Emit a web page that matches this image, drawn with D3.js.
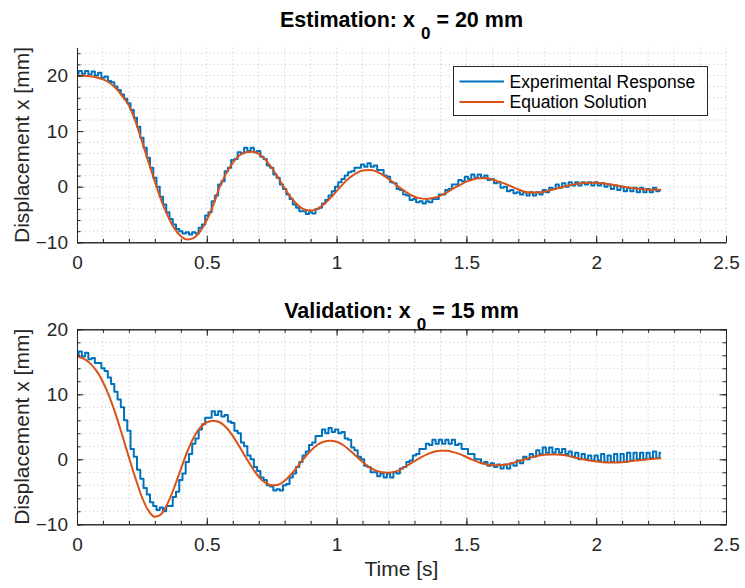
<!DOCTYPE html>
<html>
<head>
<meta charset="utf-8">
<script src="https://cdn.jsdelivr.net/npm/d3@7"></script>
<style>
  body { margin: 0; background: #fff; }
  svg { font-family: "Liberation Sans", Arial, Helvetica, sans-serif; }
</style>
</head>
<body>
<div id="wrapper"></div>
<script>
// sample spacing of the two series [s]
const expDt = 0.0125
const solDt = 0.025

// Estimation run, x0 = 20 mm
const estExp = [
  20.3, 20.8, 20.3, 20.8, 20.2, 20.7, 20.0, 20.5, 19.6, 19.8, 19.0, 18.8, 18.0, 17.4, 16.6, 15.8,
  15.0, 13.8, 12.4, 10.8, 8.8, 7.0, 5.2, 3.4, 1.6, 0.0, -1.8, -3.2, -4.6, -5.8, -6.8, -7.6,
  -8.0, -8.4, -8.2, -8.6, -8.2, -8.4, -7.4, -6.8, -5.2, -4.6, -2.6, -1.6, 0.4, 1.0, 2.8, 3.4,
  4.8, 5.0, 6.2, 6.0, 7.0, 6.4, 7.0, 6.2, 6.4, 5.4, 5.0, 3.8, 3.4, 2.2, 1.6, 0.4,
  -0.4, -1.4, -2.2, -3.2, -3.8, -4.4, -4.4, -4.9, -4.6, -4.8, -4.0, -3.8, -3.0, -2.4, -1.6, -0.8,
  0.0, 0.8, 1.4, 2.0, 2.6, 2.8, 3.4, 3.4, 4.0, 3.6, 4.2, 3.6, 3.8, 3.0, 3.0, 2.0,
  1.8, 0.8, 0.6, -0.4, -0.6, -1.4, -1.6, -2.4, -2.2, -2.8, -2.6, -3.0, -2.6, -2.8, -2.2, -2.2,
  -1.4, -1.4, -0.6, -0.4, 0.4, 0.4, 1.2, 1.0, 1.8, 1.4, 2.2, 1.6, 2.2, 1.6, 2.0, 1.2,
  1.4, 0.6, 0.8, -0.2, 0.0, -0.8, -0.6, -1.2, -1.0, -1.4, -1.0, -1.6, -1.0, -1.6, -1.0, -1.4,
  -0.6, -1.0, -0.2, -0.4, 0.4, -0.2, 0.6, 0.0, 0.8, 0.2, 0.8, 0.2, 0.8, 0.4, 0.8, 0.2,
  0.8, 0.2, 0.6, 0.0, 0.4, -0.4, 0.2, -0.6, 0.0, -0.8, -0.2, -0.8, -0.2, -1.0, -0.2, -1.0,
  -0.4, -1.0, -0.2, -0.8, -0.6
]
const estSol = [
  20.0, 19.95, 19.85, 19.65, 19.3, 18.7, 17.7, 16.3, 14.6, 11.8, 8.2, 4.5, 0.9, -2.5, -5.3, -7.5,
  -8.9, -9.5, -9.2, -8.0, -6.0, -3.3, 0.0, 2.4, 4.3, 5.6, 6.2, 6.3, 5.9, 4.9, 3.4, 1.6,
  -0.3, -2.0, -3.3, -4.1, -4.3, -4.0, -3.2, -2.1, -0.8, 0.5, 1.6, 2.4, 2.9, 3.0, 2.8, 2.2,
  1.4, 0.5, -0.4, -1.2, -1.8, -2.1, -2.2, -2.0, -1.6, -1.0, -0.3, 0.3, 0.9, 1.3, 1.5, 1.5,
  1.3, 0.9, 0.5, 0.0, -0.5, -0.9, -1.05, -1.05, -0.9, -0.6, -0.3, 0.0, 0.3, 0.5, 0.65, 0.7,
  0.7, 0.6, 0.45, 0.25, 0.05, -0.15, -0.3, -0.45, -0.55, -0.55, -0.55
]

// Validation run, x0 = 15 mm
const valExp = [
  16.0, 16.6, 15.8, 16.4, 15.4, 15.6, 14.8, 14.8, 14.0, 13.6, 12.6, 11.6, 10.4, 9.2, 8.0, 6.0,
  4.4, 1.6, 0.4, -1.6, -3.0, -4.4, -5.4, -6.6, -7.2, -7.8, -7.4, -8.0, -7.2, -7.2, -5.8, -5.0,
  -3.2, -2.2, -0.4, 0.8, 2.4, 3.2, 4.6, 5.4, 6.4, 6.4, 7.4, 6.8, 7.4, 6.6, 6.8, 5.8,
  5.6, 4.4, 4.0, 2.6, 2.0, 0.6, 0.0, -1.2, -1.8, -2.8, -3.2, -4.0, -4.2, -4.8, -4.6, -4.8,
  -4.0, -3.8, -2.8, -2.2, -1.2, -0.4, 0.6, 1.2, 2.2, 2.6, 3.6, 3.6, 4.6, 4.0, 4.8, 4.2,
  4.6, 4.0, 4.2, 3.2, 3.0, 1.8, 1.4, 0.4, 0.0, -1.0, -1.2, -2.0, -2.0, -2.6, -2.2, -2.8,
  -2.2, -2.8, -2.0, -2.2, -1.4, -1.2, -0.4, -0.2, 0.6, 0.8, 1.6, 1.6, 2.4, 2.2, 3.0, 2.4,
  3.0, 2.4, 3.0, 2.4, 3.0, 2.2, 2.4, 1.6, 1.6, 0.8, 0.8, 0.0, 0.0, -0.6, -0.4, -1.0,
  -0.6, -1.2, -0.8, -1.4, -0.8, -1.4, -0.6, -1.0, -0.2, -0.6, 0.4, 0.0, 0.8, 0.4, 1.4, 0.8,
  1.8, 1.0, 1.8, 1.0, 1.6, 1.0, 1.6, 0.8, 1.2, 0.4, 1.0, 0.0, 0.8, 0.0, 0.6, -0.2,
  0.6, -0.2, 0.8, -0.4, 0.6, -0.4, 0.8, -0.4, 0.8, -0.4, 1.0, -0.2, 1.0, 0.0, 1.0, 0.0,
  1.0, 0.2, 1.2, 0.2, 1.0
]
const valSol = [
  15.8, 15.5, 14.8, 13.6, 11.9, 9.6, 6.8, 3.6, 0.3, -2.9, -5.8, -7.9, -8.85, -8.4, -6.7, -4.3,
  -1.5, 1.2, 3.4, 4.9, 5.7, 5.95, 5.7, 4.9, 3.6, 2.0, 0.3, -1.3, -2.7, -3.6, -4.0, -3.9,
  -3.3, -2.3, -1.1, 0.2, 1.3, 2.2, 2.7, 2.85, 2.7, 2.2, 1.4, 0.5, -0.4, -1.2, -1.7, -2.0,
  -2.05, -1.9, -1.5, -0.9, -0.3, 0.3, 0.8, 1.15, 1.3, 1.3, 1.1, 0.8, 0.35, -0.1, -0.5, -0.75,
  -0.9, -0.9, -0.85, -0.6, -0.3, 0.0, 0.3, 0.55, 0.7, 0.75, 0.75, 0.65, 0.45, 0.2, 0.0, -0.2,
  -0.35, -0.45, -0.5, -0.5, -0.45, -0.35, -0.2, -0.1, 0.0, 0.1, 0.15
]

const xTicks = [0, 0.5, 1, 1.5, 2, 2.5]
const yTicks = [-10, 0, 10, 20]
const legendLabels = ["Experimental Response", "Equation Solution"]
const colors = ["#0072BD", "#D95319"]

const width = 745
const height = 588
const margin = { left: 77, right: 19 }
const axisColor = "#262626"

const svg = d3.select("#wrapper")
  .append("svg")
    .attr("width", width)
    .attr("height", height)

const toPoints = (values, dt) => values.map((v, i) => [i * dt, v])

function drawPanel(p) {
  const x = d3.scaleLinear()
    .domain([0, 2.5])
    .range([margin.left, width - margin.right])
  const y = d3.scaleLinear()
    .domain(p.yDomain)
    .range([p.bottom, p.top])

  const g = svg.append("g")

  // dotted grid at every minor step
  const xMinor = d3.range(0, 2.5001, 0.1)
  const yMinor = d3.range(p.yDomain[0], p.yDomain[1] + 0.001, 2)
  g.append("g").selectAll("line")
    .data(xMinor)
    .join("line")
      .attr("x1", d => x(d)).attr("x2", d => x(d))
      .attr("y1", p.top).attr("y2", p.bottom)
  g.append("g").selectAll("line")
    .data(yMinor)
    .join("line")
      .attr("x1", x.range()[0]).attr("x2", x.range()[1])
      .attr("y1", d => y(d)).attr("y2", d => y(d))
  g.selectAll("line")
    .attr("stroke", "#c4c4c4")
    .attr("stroke-width", 1)
    .attr("stroke-dasharray", "1,3")

  // data lines
  const expLine = d3.line()
    .x(d => x(d[0])).y(d => y(d[1]))
    .curve(d3.curveStep)
  const solLine = d3.line()
    .x(d => x(d[0])).y(d => y(d[1]))
    .curve(d3.curveMonotoneX)

  g.append("path")
    .datum(toPoints(p.exp, expDt))
    .attr("fill", "none")
    .attr("stroke", colors[0])
    .attr("stroke-width", 2)
    .attr("stroke-linejoin", "round")
    .attr("d", expLine)
  g.append("path")
    .datum(toPoints(p.sol, solDt))
    .attr("fill", "none")
    .attr("stroke", colors[1])
    .attr("stroke-width", 2)
    .attr("d", solLine)

  // axes, ticks pointing inside
  const addAxis = (gen, tx, ty, labels) => {
    const a = g.append("g")
      .attr("transform", `translate(${tx},${ty})`)
      .call(gen)
    a.selectAll("path, line").attr("stroke", axisColor)
    a.selectAll("text")
      .attr("fill", axisColor)
      .style("font-family", "'Liberation Sans', Arial, sans-serif")
      .style("font-size", "19px")
    if (!labels) a.selectAll("text").remove()
    return a
  }

  addAxis(d3.axisBottom(x).tickValues(xMinor).tickSize(-3.5).tickSizeOuter(0).tickFormat(""), 0, p.bottom, false)
  addAxis(d3.axisBottom(x).tickValues(xTicks).tickSize(-6.5).tickSizeOuter(0).tickPadding(13).tickFormat(d3.format("")), 0, p.bottom, true)
  addAxis(d3.axisLeft(y).tickValues(yMinor).tickSize(-3.5).tickSizeOuter(0).tickFormat(""), margin.left, 0, false)
  addAxis(d3.axisLeft(y).tickValues(yTicks).tickSize(-6.5).tickSizeOuter(0).tickPadding(9).tickFormat(d3.format("")), margin.left, 0, true)

  if (p.box) {
    addAxis(d3.axisTop(x).tickValues(xMinor).tickSize(-3.5).tickSizeOuter(0).tickFormat(""), 0, p.top, false)
    addAxis(d3.axisTop(x).tickValues(xTicks).tickSize(-6.5).tickSizeOuter(0).tickFormat(""), 0, p.top, false)
    addAxis(d3.axisRight(y).tickValues(yMinor).tickSize(-3.5).tickSizeOuter(0).tickFormat(""), x.range()[1], 0, false)
    addAxis(d3.axisRight(y).tickValues(yTicks).tickSize(-6.5).tickSizeOuter(0).tickFormat(""), x.range()[1], 0, false)
  }

  // y label
  const cy = (p.top + p.bottom) / 2
  g.append("text")
    .attr("transform", `translate(28.5,${cy}) rotate(-90)`)
    .attr("text-anchor", "middle")
    .attr("fill", axisColor)
    .style("font-size", "21px")
    .text("Displacement x [mm]")

  // title with subscript
  const title = g.append("text")
    .attr("x", (x.range()[0] + x.range()[1]) / 2)
    .attr("y", p.titleY)
    .attr("text-anchor", "middle")
    .attr("fill", "#000")
    .style("font-size", "21.5px")
    .style("font-weight", "bold")
  title.append("tspan").text(p.title[0] + " ")
  title.append("tspan").attr("dy", 12).style("font-size", "17px").text(p.title[1])
  title.append("tspan").attr("dy", -12).text(" " + p.title[2])

  return { g, x, y }
}

const est = drawPanel({
  top: 47.7, bottom: 242.3, yDomain: [-10, 25],
  exp: estExp, sol: estSol, box: false,
  title: ["Estimation: x", "0", "= 20 mm"], titleY: 27
})

const val = drawPanel({
  top: 329.3, bottom: 524.3, yDomain: [-10, 20],
  exp: valExp, sol: valSol, box: true,
  title: ["Validation: x", "0", "= 15 mm"], titleY: 317.5
})

// x label
svg.append("text")
  .attr("x", (val.x.range()[0] + val.x.range()[1]) / 2)
  .attr("y", 576)
  .attr("text-anchor", "middle")
  .attr("fill", axisColor)
  .style("font-size", "21px")
  .text("Time [s]")

// legend in the estimation panel
const legend = est.g.append("g")
  .attr("transform", "translate(453.5,66.5)")
legend.append("rect")
  .attr("width", 254)
  .attr("height", 49)
  .attr("fill", "#fff")
  .attr("stroke", axisColor)
  .attr("stroke-width", 1)
const rows = legend.selectAll(".row")
  .data(legendLabels)
  .join("g")
    .attr("class", "row")
    .attr("transform", (d, i) => `translate(0,${15 + i * 20.6})`)
rows.append("line")
  .attr("x1", 6).attr("x2", 50.5)
  .attr("stroke", (d, i) => colors[i])
  .attr("stroke-width", 2)
rows.append("text")
  .attr("x", 56)
  .attr("dy", "0.35em")
  .attr("fill", "#000")
  .style("font-size", "17.5px")
  .text(d => d)
</script>
</body>
</html>
